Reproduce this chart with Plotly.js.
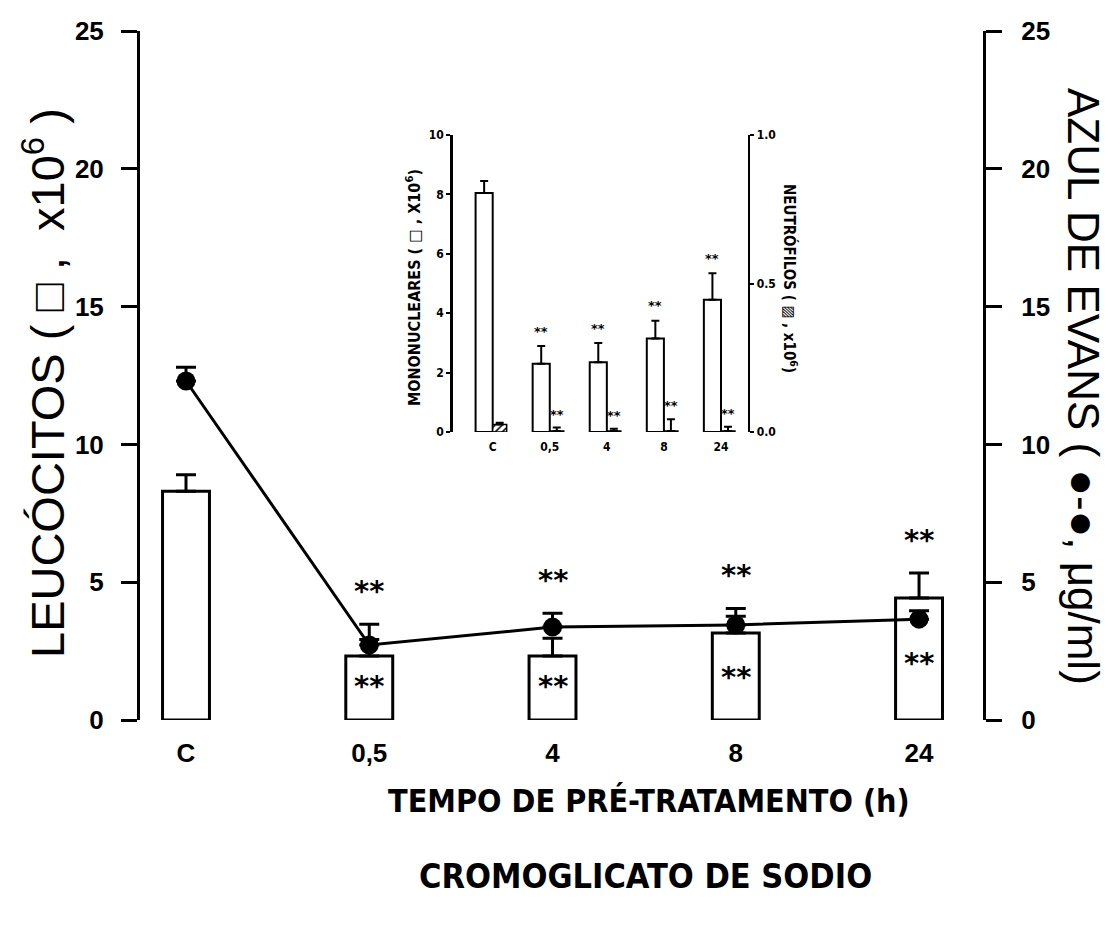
<!DOCTYPE html>
<html><head><meta charset="utf-8">
<script src="https://cdn.plot.ly/plotly-3.0.1.min.js"></script>
<style>body{margin:0;background:#fff}</style>
</head><body><div id="chart" style="width:1107px;height:944px"></div>
<script>
// ---- data ----
const categories = ['C', '0,5', '4', '8', '24'];
const leucocitos = [8.3, 2.32, 2.32, 3.16, 4.43];
const leucocitosErr = [0.6, 0.6, 0.65, 0.6, 0.9];
const azulEvans = [12.3, 2.72, 3.37, 3.45, 3.66];
const azulEvansErr = [0.5, 0.75, 0.5, 0.6, 0.3];
const mononucleares = [8.05, 2.3, 2.35, 3.15, 4.45];
const mononuclearesErr = [0.4, 0.6, 0.65, 0.6, 0.9];
const neutrofilos = [0.025, 0.003, 0.003, 0.003, 0.003];
const neutrofilosErr = [0.006, 0.012, 0.008, 0.04, 0.015];
const significant = [false, true, true, true, true];

const MAIN_FONT = 'Liberation Sans, Arial, sans-serif';
const COND_FONT = 'DejaVu Sans Condensed, Liberation Sans Narrow, sans-serif';

const traces = [
  {
    type: 'bar', x: categories, y: leucocitos, xaxis: 'x', yaxis: 'y',
    width: 0.256,
    marker: {color: 'white', line: {color: 'black', width: 3}},
    error_y: {type: 'data', array: leucocitosErr, symmetric: false,
      arrayminus: leucocitosErr.map(() => 0), color: 'black', thickness: 3, width: 10},
    hoverinfo: 'skip', showlegend: false
  },
  {
    type: 'scatter', mode: 'lines+markers', x: categories, y: azulEvans,
    xaxis: 'x', yaxis: 'y2',
    line: {color: 'black', width: 3},
    marker: {color: 'black', size: 19},
    error_y: {type: 'data', array: azulEvansErr, symmetric: false,
      arrayminus: azulEvansErr.map(() => 0), color: 'black', thickness: 3, width: 10},
    hoverinfo: 'skip', showlegend: false
  },
  {
    type: 'bar', x: categories, y: mononucleares, xaxis: 'x2', yaxis: 'y3',
    offset: -0.3, width: 0.3,
    marker: {color: 'white', line: {color: 'black', width: 2}},
    error_y: {type: 'data', array: mononuclearesErr, symmetric: false,
      arrayminus: mononuclearesErr.map(() => 0), color: 'black', thickness: 2, width: 4},
    hoverinfo: 'skip', showlegend: false
  },
  {
    type: 'bar', x: categories, y: neutrofilos, xaxis: 'x2', yaxis: 'y4',
    offset: 0, width: 0.245,
    marker: {color: 'white', line: {color: 'black', width: 1.5},
      pattern: {shape: '/', fgcolor: 'black', bgcolor: 'white', size: 5, solidity: 0.3}},
    error_y: {type: 'data', array: neutrofilosErr, symmetric: false,
      arrayminus: neutrofilosErr.map(() => 0), color: 'black', thickness: 2, width: 4},
    hoverinfo: 'skip', showlegend: false
  }
];

const annotations = [];
const starFont = {family: 'DejaVu Sans, sans-serif', size: 29, color: '#000000', weight: 'bold'};
const smallStar = {family: 'DejaVu Sans, sans-serif', size: 13, color: '#000000', weight: 'bold'};
categories.forEach((c, i) => {
  if (!significant[i]) return;
  const top = Math.max(leucocitos[i] + leucocitosErr[i], azulEvans[i] + azulEvansErr[i]);
  annotations.push({x: i, y: top + 1.2, xref: 'x', yref: 'y', text: '**', showarrow: false,
    font: starFont, yanchor: 'middle'});
  annotations.push({x: i, y: 0.4 * leucocitos[i] + 0.3, xref: 'x', yref: 'y', text: '**', showarrow: false,
    font: starFont, yanchor: 'middle'});
  annotations.push({x: i - 0.15, y: mononucleares[i] + mononuclearesErr[i] + 0.5, xref: 'x2', yref: 'y3',
    text: '**', showarrow: false, yanchor: 'middle', font: smallStar});
  annotations.push({x: i + 0.12, y: neutrofilos[i] + neutrofilosErr[i] + 0.045, xref: 'x2', yref: 'y4',
    text: '**', showarrow: false, yanchor: 'middle', font: smallStar});
});

// axis titles
annotations.push({xref: 'paper', yref: 'paper', x: (44 - 140) / 843, y: (720 - 383) / 689, textangle: -90,
  xanchor: 'center', yanchor: 'middle',
  text: 'LEUCÓCITOS (&nbsp;□&nbsp;,&nbsp;&nbsp;x10<sup>6</sup>&nbsp;)', showarrow: false,
  font: {family: MAIN_FONT, size: 47, color: 'black'}});
annotations.push({xref: 'paper', yref: 'paper', x: (1084 - 140) / 843, y: (720 - 386) / 689, textangle: 90,
  xanchor: 'center', yanchor: 'middle',
  text: 'AZUL DE EVANS ( ●-●, μg/ml)', showarrow: false,
  font: {family: MAIN_FONT, size: 44, color: 'black'}});
annotations.push({xref: 'paper', yref: 'paper', x: (649 - 140) / 843, y: -0.117, yanchor: 'middle',
  xanchor: 'center',
  text: 'TEMPO DE PRÉ-TRATAMENTO (h)', showarrow: false,
  font: {family: COND_FONT, size: 32, color: 'black', weight: 'bold'}});
annotations.push({xref: 'paper', yref: 'paper', x: (645 - 140) / 843, y: -0.226, yanchor: 'middle',
  xanchor: 'center',
  text: 'CROMOGLICATO DE SODIO', showarrow: false,
  font: {family: COND_FONT, size: 34, color: 'black', weight: 'bold'}});
annotations.push({xref: 'paper', yref: 'paper', x: (413 - 140) / 843, y: (720 - 288) / 689, textangle: -90,
  xanchor: 'center', yanchor: 'middle',
  text: 'MONONUCLEARES ( □ , X10<sup>6</sup>)', showarrow: false,
  font: {family: COND_FONT, size: 16, color: 'black', weight: 'bold'}});
annotations.push({xref: 'paper', yref: 'paper', x: (790 - 140) / 843, y: (720 - 278) / 689, textangle: 90,
  xanchor: 'center', yanchor: 'middle',
  text: 'NEUTRÓFILOS ( ▨ , x10<sup>6</sup>)', showarrow: false,
  font: {family: COND_FONT, size: 15, color: 'black', weight: 'bold'}});

const mainTick = {family: MAIN_FONT, size: 26, color: 'black', weight: 'bold'};
const insetTick = {family: COND_FONT, size: 12, color: 'black', weight: 'bold'};

const layout = {
  width: 1107, height: 944,
  margin: {l: 140, r: 124, t: 31, b: 224},
  paper_bgcolor: 'white', plot_bgcolor: 'rgba(0,0,0,0)',
  showlegend: false,
  xaxis: {type: 'category', range: [-0.251, 4.349], showline: false, ticks: '',
    showgrid: false, zeroline: false, tickfont: mainTick, ticklabelstandoff: 15, fixedrange: true},
  yaxis: {range: [0, 25], dtick: 5, showline: true, linewidth: 3, linecolor: 'black',
    ticks: 'outside', ticklen: 16, tickwidth: 3, tickcolor: 'black', showgrid: false,
    zeroline: false, tickfont: mainTick, ticklabelstandoff: 12},
  yaxis2: {range: [0, 25], dtick: 5, overlaying: 'y', side: 'right', showline: true,
    linewidth: 3, linecolor: 'black', ticks: 'outside', ticklen: 16, tickwidth: 3,
    tickcolor: 'black', showgrid: false, zeroline: false, tickfont: mainTick, ticklabelstandoff: 14},
  xaxis2: {type: 'category', domain: [0.371, 0.721], anchor: 'y3', range: [-0.70, 4.47],
    showline: false, ticks: '', showgrid: false, zeroline: false, tickfont: insetTick,
    ticklabelstandoff: 6},
  yaxis3: {domain: [0.418, 0.849], anchor: 'x2', range: [0, 10], dtick: 2, showline: true,
    linewidth: 2.5, linecolor: 'black', ticks: 'outside', ticklen: 4, tickwidth: 2,
    tickcolor: 'black', showgrid: false, zeroline: false, tickfont: insetTick},
  yaxis4: {overlaying: 'y3', side: 'right', anchor: 'x2', range: [0, 1], dtick: 0.5,
    tickformat: '.1f', showline: true, linewidth: 2.5, linecolor: 'black', ticks: 'outside',
    ticklen: 4, tickwidth: 2, tickcolor: 'black', showgrid: false, zeroline: false,
    tickfont: insetTick},
  annotations: annotations
};

Plotly.newPlot('chart', traces, layout, {displayModeBar: false, staticPlot: true});
</script>
</body></html>
